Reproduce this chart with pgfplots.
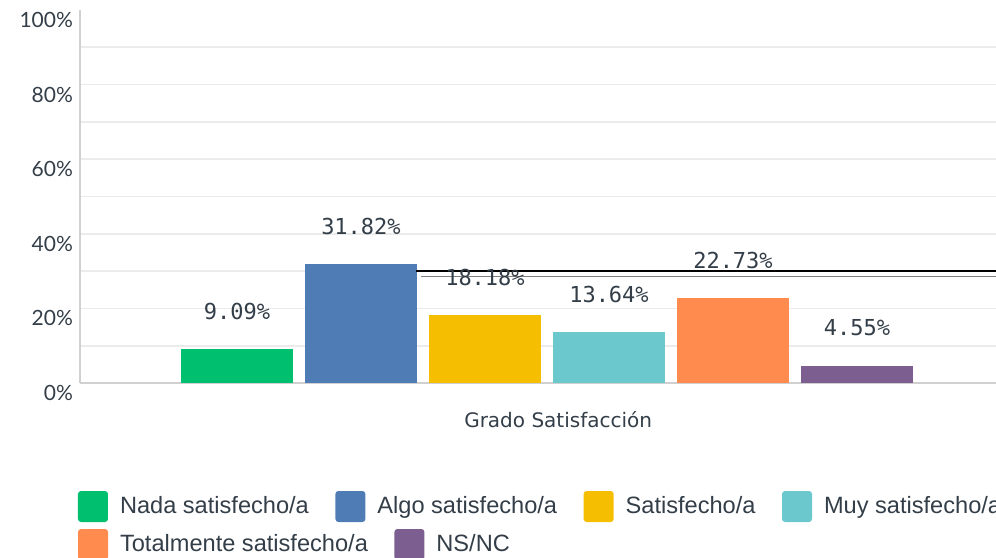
\documentclass[border=0pt]{standalone}
\usepackage{fontspec}
\usepackage{pgfplots}
\pgfplotsset{compat=1.18}
\setmainfont{Lato}
\newfontfamily\legfont{Liberation Sans}
\newfontfamily\valfont{DejaVu Sans Mono}
\newfontfamily\labfont{DejaVu Sans}

\definecolor{cGreen}{HTML}{00BF6F}
\definecolor{cBlue}{HTML}{507CB6}
\definecolor{cYellow}{HTML}{F6BE00}
\definecolor{cTeal}{HTML}{6BC8CD}
\definecolor{cOrange}{HTML}{FF8B4F}
\definecolor{cPurple}{HTML}{7D5E90}
\definecolor{txt}{HTML}{333E48}
\definecolor{gridc}{HTML}{EBEBEB}
\definecolor{axc}{HTML}{D0D0D0}

\pgfplotsset{
  sqlegend/.style={
    legend image code/.code={\fill[##1, draw=none, rounded corners=1.5pt] (0pt,-7.75pt) rectangle (15pt,7.75pt);},
    legend style={draw=none, fill=none, inner sep=0pt, outer sep=0pt,
      font=\legfont\fontsize{11.8}{13}\selectfont, text=txt,
      cells={anchor=west},
      /tikz/every odd column/.append style={column sep=4pt},
      /tikz/every even column/.append style={column sep=11.25pt}},
  },
  bars/.style={ybar, bar width=0.9, bar shift=0pt, draw=none, fill=#1,
    nodes near coords={\pgfmathprintnumber[fixed, fixed zerofill, precision=2]{\pgfplotspointmeta}\%},
    every node near coord/.append style={font=\valfont\fontsize{11}{13}\selectfont, text=txt, anchor=center, yshift=19pt}},
}

\begin{document}
\begin{tikzpicture}
% page = the visible part of the chart (right side is cut off as in the source)
\useasboundingbox (-40pt,-87pt) rectangle (458pt,191.5pt);
\begin{axis}[
    at={(0,0)}, anchor=south west,
    scale only axis, width=458pt, height=186.5pt,
    xmin=-1.266, xmax=6.121, ymin=0, ymax=100,
    axis lines*=left,
    axis line style={axc, line width=0.8pt},
    xtick=\empty,
    ytick={0,20,...,80},
    minor ytick={10,30,...,90},
    extra y ticks={100}, extra y tick labels={100\%},
    extra y tick style={grid=none},
    yticklabel={\pgfmathprintnumber{\tick}\%},
    /pgf/number format/assume math mode=true,
    yticklabel style={font=\fontsize{10.5}{12}\selectfont, text=txt, yshift=-5pt},
    ymajorgrids, yminorgrids,
    major grid style={gridc, line width=0.8pt},
    minor grid style={gridc, line width=0.8pt},
    major tick length=0pt, minor tick length=0pt,
    xlabel={Grado Satisfacción},
    every axis x label/.style={at={(axis description cs:0.522,0)}, anchor=center, yshift=-18.5pt,
      font=\labfont\fontsize{10}{12}\selectfont, text=txt},
    sqlegend,
    legend style={at={(axis description cs:0,0)}, anchor=north west, xshift=-1pt, yshift=-54pt},
    legend columns=4,
]
\addplot[bars=cGreen] coordinates {(0,9.09)};
\addplot[bars=cBlue] coordinates {(1,31.82)};
\addplot[bars=cYellow] coordinates {(2,18.18)};
\addplot[bars=cTeal] coordinates {(3,13.64)};
\addplot[bars=cOrange, forget plot] coordinates {(4,22.73)};
\addplot[bars=cPurple, forget plot] coordinates {(5,4.55)};
\addplot[black, line width=1pt, forget plot] coordinates {(1.44,30.0) (6.3,30.0)};
\addplot[gray, line width=0.5pt, forget plot] coordinates {(1.48,28.6) (6.3,28.6)};
\legend{Nada satisfecho/a, Algo satisfecho/a, Satisfecho/a, Muy satisfecho/a}
\end{axis}
\begin{axis}[
    at={(0,0)}, anchor=south west,
    scale only axis, width=458pt, height=186.5pt,
    xmin=0, xmax=1, ymin=0, ymax=1,
    hide axis,
    sqlegend,
    legend style={at={(axis description cs:0,0)}, anchor=north west, xshift=-1pt, yshift=-73pt},
    legend columns=2,
]
\addlegendimage{fill=cOrange}
\addlegendimage{fill=cPurple}
\legend{Totalmente satisfecho/a, NS/NC}
\end{axis}
\end{tikzpicture}
\end{document}
